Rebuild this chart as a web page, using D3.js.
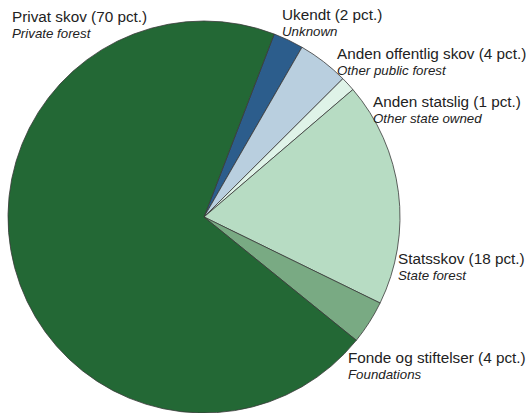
<!DOCTYPE html>
<html>
<head>
<meta charset="utf-8">
<script src="https://cdnjs.cloudflare.com/ajax/libs/d3/7.8.5/d3.min.js"></script>
<style>
  body { margin: 0; background: #fff; }
  text { font-family: "Liberation Sans", Arial, sans-serif; fill: #222; }
</style>
</head>
<body>
<svg width="531" height="413"></svg>
<script>
// ownership shares, clockwise starting just right of north
var names = ["Ukendt (2 pct.)", "Anden offentlig skov (4 pct.)", "Anden statslig (1 pct.)",
             "Statsskov (18 pct.)", "Fonde og stiftelser (4 pct.)", "Privat skov (70 pct.)"];
var english = ["Unknown", "Other public forest", "Other state owned",
               "State forest", "Foundations", "Private forest"];
var shares = [2.5, 4.2, 1.2, 18.5, 3.6, 70];
var colors = ["#2c5d8c", "#b9cfdf", "#dff3e8", "#b7dcc3", "#79aa83", "#236835"];

// label anchor points (x, baseline y of first line)
var labelPos = [[282, 20], [337, 59], [373, 107], [398, 264], [348, 363], [12, 22]];

var svg = d3.select("svg"),
    cx = 204, cy = 217, radius = 196;

var g = svg.append("g")
    .attr("transform", "translate(" + cx + "," + cy + ")");

var pie = d3.pie().sort(null)
    .startAngle(21 * Math.PI / 180)
    .endAngle(21 * Math.PI / 180 + 2 * Math.PI);

var arc = d3.arc().innerRadius(0).outerRadius(radius);

g.selectAll(".slice")
    .data(pie(shares))
    .enter().append("path")
    .attr("class", "slice")
    .attr("d", arc)
    .style("fill", (d, i) => colors[i])
    .style("stroke", "#3a3a3a")
    .style("stroke-width", 0.8)
    .style("stroke-linejoin", "round");

var labels = svg.selectAll(".lbl")
    .data(names)
    .enter().append("g")
    .attr("class", "lbl")
    .attr("transform", (d, i) => "translate(" + labelPos[i][0] + "," + labelPos[i][1] + ")");

labels.append("text")
    .style("font-size", "15.3px")
    .text(d => d);

labels.append("text")
    .attr("y", 16)
    .style("font-size", "13.3px")
    .style("font-style", "italic")
    .text((d, i) => english[i]);
</script>
</body>
</html>
